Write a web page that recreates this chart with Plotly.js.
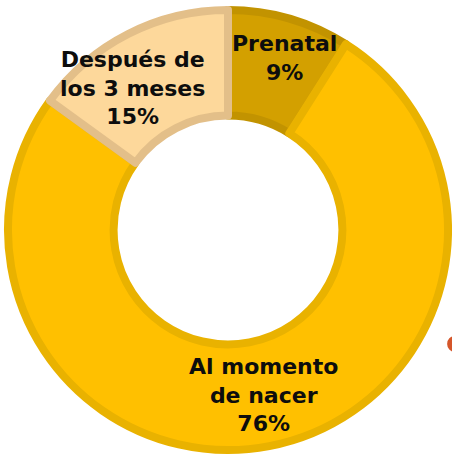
<!DOCTYPE html>
<html>
<head>
<meta charset="utf-8">
<script src="https://cdn.plot.ly/plotly-3.0.1.min.js"></script>
<style>
  html, body { margin: 0; padding: 0; background: #fff; }
  #plot { width: 452px; height: 459px; }
</style>
</head>
<body>
<div id="plot"></div>
<script>
    // Data
    var labels = ['Prenatal', 'Al momento<br>de nacer', 'Después de<br>los 3 meses'];
    var values = [9, 76, 15];
    var fillColors = ['#D3A000', '#FFC000', '#FDD89B'];
    var edgeColors = ['#C29300', '#E9B200', '#E3BF89'];

    // label nudges in pixels (the original labels were hand placed)
    var nudgeX = [9, 3, -17];
    var nudgeY = [7, 4, -11];

    document.addEventListener("DOMContentLoaded", function () {
        var trace = {
            type: 'pie',
            labels: labels,
            values: values,
            sort: false,
            direction: 'clockwise',
            rotation: 0,
            hole: 0.52,
            marker: {
                colors: fillColors,
                line: { color: edgeColors, width: 8 }
            },
            textinfo: 'none',
            hoverinfo: 'none',
            showlegend: false
        };

        // Place labels at the middle of each slice (plot area is 440 x 440 px)
        var total = values.reduce(function (a, b) { return a + b; }, 0);
        var side = 440, rr = 172, cum = 0;
        var annotations = labels.map(function (lab, i) {
            var mid = (cum + values[i] / 2) / total * 2 * Math.PI;
            cum += values[i];
            var pct = Math.round(values[i] / total * 100);
            return {
                xref: 'paper', yref: 'paper',
                x: 0.5 + rr * Math.sin(mid) / side,
                y: 0.5 + rr * Math.cos(mid) / side,
                xanchor: 'center', yanchor: 'middle',
                xshift: nudgeX[i], yshift: nudgeY[i],
                text: lab + '<br>' + pct + '%',
                showarrow: false,
                align: 'center',
                font: { family: 'DejaVu Sans', size: 22, color: '#0d0d0d', weight: 'bold' }
            };
        });

        var layout = {
            width: 452,
            height: 459,
            margin: { l: 8, r: 4, t: 10, b: 9 },
            paper_bgcolor: '#fff',
            showlegend: false,
            annotations: annotations,
            shapes: [{
                type: 'circle', xref: 'paper', yref: 'paper',
                x0: 0.998, x1: 1.032, y0: 0.223, y1: 0.259,
                fillcolor: '#D5562A', line: { width: 0 }
            }]
        };

        Plotly.newPlot('plot', [trace], layout, { staticPlot: true });
    });
</script>
</body>
</html>
